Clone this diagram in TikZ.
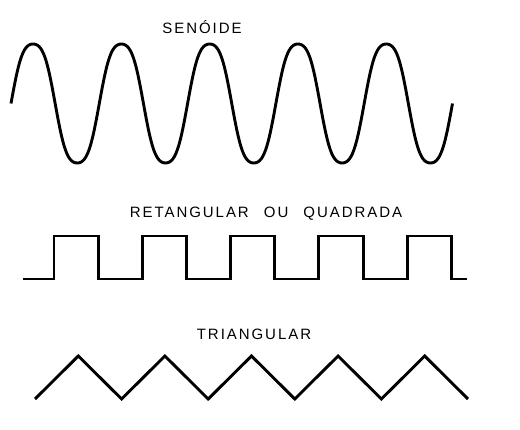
\documentclass[tikz,border=0pt]{standalone}
\usepackage{fontspec}
\newfontfamily\labelfont[LetterSpace=13]{Liberation Sans}

\begin{document}
\begin{tikzpicture}[x=1pt, y=-1pt,
    wave/.style={line width=2.9pt, line join=miter},
    wavelabel/.style={font=\labelfont\fontsize{15}{15}\selectfont, inner sep=0pt}]
  \useasboundingbox (0,0) rectangle (520,430);

  \pgfmathsetmacro{\period}{88.3}
  \pgfmathsetmacro{\half}{\period/2}

  \node[wavelabel] (lblsine) at (202,27) {SENÓIDE};
  \node[wavelabel] (lblsquare) at (266,214) {RETANGULAR\hspace{9pt} OU\hspace{9pt} QUADRADA};
  \node[wavelabel] (lbltri) at (254,334) {TRIANGULAR};

  \pgfmathsetmacro{\xsine}{11}
  \pgfmathsetmacro{\xsineend}{\xsine+5*\period}
  \draw[wave] plot[domain=\xsine:\xsineend, samples=301, smooth]
    (\x, {103.5 - 59.5/0.93*(sin((\x-\xsine)/\period*360)
          + 0.07*sin(3*(\x-\xsine)/\period*360))});

  \pgfmathsetmacro{\ylow}{279}
  \pgfmathsetmacro{\yhigh}{236}
  \draw[wave] (23,\ylow)
    foreach \k in {0,...,4}{
      -- ({54+\period*\k},\ylow) -- ({54+\period*\k},\yhigh)
      -- ({54+\half+\period*\k},\yhigh) -- ({54+\half+\period*\k},\ylow)
    } -- (467,\ylow);

  \pgfmathsetmacro{\tstep}{86.6}
  \draw[wave] (35,399)
    foreach \k in {0,...,4}{
      -- ({35+\tstep/2+\tstep*\k},356) -- ({35+\tstep+\tstep*\k},399)
    };
\end{tikzpicture}
\end{document}
